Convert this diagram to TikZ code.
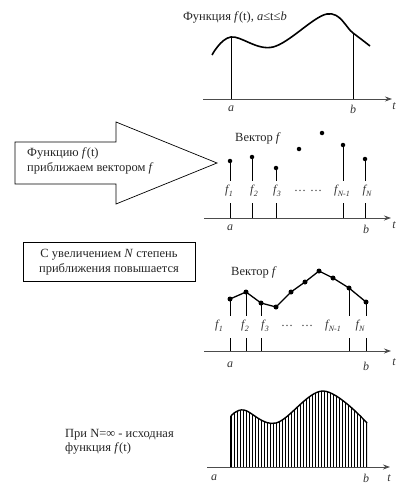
\documentclass[tikz,border=0pt]{standalone}
\usepackage{fontspec}
\setmainfont{Liberation Serif}
\usetikzlibrary{arrows.meta}
\newcommand{\fsub}[1]{\textit{f}\kern0.3pt\raisebox{-2.5pt}{\fontsize{8}{8}\selectfont #1}}
\begin{document}
\begin{tikzpicture}[x=1pt,y=-1pt,
  axis/.style={draw=black!70, line width=0.8pt, -{Stealth[length=7pt,width=5pt]}},
  curve/.style={line width=1.6pt, line join=round},
  stem/.style={line width=0.9pt},
  pt/.style={circle, fill=black, inner sep=0pt, minimum size=4.5pt},
  lbl/.style={font=\fontsize{12}{14}\selectfont\itshape, inner sep=0pt, text=black!80},
  txt/.style={font=\fontsize{12.5}{14.5}\selectfont, inner sep=0pt, text=black!85},
]
\useasboundingbox (0,0) rectangle (407,495);

% ---------- panel 1 ----------
\coordinate (ax1s) at (203,99);
\coordinate (ax1e) at (392,99);
\draw[axis] (ax1s) -- (ax1e);
\draw[curve] plot[smooth, tension=0.6] coordinates {(212,55) (231,37) (273,47) (327,14) (353,33) (370,46)};
\coordinate (a1t) at (231,37.5); \coordinate (a1b) at (231,99);
\coordinate (b1t) at (353,33); \coordinate (b1b) at (353,99);
\draw[stem] (a1b) -- (a1t);
\draw[stem] (b1b) -- (b1t);
\node[txt, anchor=east] (title) at (287,17) {Функция \textit{f}(t), \textit{a}≤t≤\textit{b}};
\node[lbl] (a1) at (231,109) {a};
\node[lbl] (b1) at (353,109) {b};
\node[lbl] (t1) at (394,106) {t};

% ---------- panel 2 ----------
\draw[line width=0.7pt] (15,142) -- (116,142) -- (116,122) -- (217,163) -- (116,204) -- (116,184) -- (15,184) -- cycle;
\node[txt, anchor=west, align=left] (arrtxt) at (27,161) {Функцию \textit{f}(t)\\приближаем вектором \textit{f}};
\node[txt, anchor=west] (vec2) at (235,138) {Вектор \textit{f}};
\coordinate (ax2s) at (204,218);
\coordinate (ax2e) at (391,218);
\draw[axis] (ax2s) -- (ax2e);
\foreach \n/\x/\y in {1/230/161, 2/252/157, 3/276/168, 4/299/149, 5/322/133, 6/343/145, 7/365/159}
  \node[pt] (p\n) at (\x,\y) {};
\foreach \n in {1,2,3,6,7} {
  \coordinate (u\n) at (p\n |- 0,181);
  \coordinate (l\n) at (p\n |- 0,203);
  \coordinate (z\n) at (p\n |- ax2s);
  \draw[stem] (p\n.center) -- (u\n);
  \draw[stem] (l\n) -- (z\n);
}
\node[lbl] (f21) at (229,191) {\fsub{1}};
\node[lbl] (f22) at (254,191) {\fsub{2}};
\node[lbl] (f23) at (277,191) {\fsub{3}};
\node[lbl] (d21) at (300,191) {\upshape\dots};
\node[lbl] (d22) at (316,191) {\upshape\dots};
\node[lbl] (f26) at (342,191) {\fsub{N-1}};
\node[lbl] (f27) at (367,191) {\fsub{N}};
\node[lbl] (a2) at (230,228) {a};
\node[lbl] (b2) at (366,229) {b};
\node[lbl] (t2) at (394,225) {t};

% ---------- panel 3 ----------
\draw[line width=1pt] (23,242) rectangle (195,281);
\node[txt, align=center] (boxtxt) at (109,262) {С увеличением \textit{N} степень\\приближения повышается};
\node[txt, anchor=west] (vec3) at (231,272) {Вектор \textit{f}};
\coordinate (ax3s) at (204,351);
\coordinate (ax3e) at (391,351);
\draw[axis] (ax3s) -- (ax3e);
\foreach \n/\x/\y in {1/230/299, 2/246/292, 3/261/303, 4/276/307, 5/291/292, 6/305/282, 7/319/271, 8/333/278, 9/349/288, 10/366/302}
  \coordinate (q\n) at (\x,\y);
\draw[line width=1.3pt, line join=round] (q1) -- (q2) -- (q3) -- (q4) -- (q5) -- (q6) -- (q7) -- (q8) -- (q9) -- (q10);
\foreach \n in {1,...,10} \node[pt, minimum size=5pt] (r\n) at (q\n) {};
\foreach \n in {1,2,3,9,10} {
  \coordinate (v\n) at (q\n |- 0,316);
  \coordinate (w\n) at (q\n |- 0,338);
  \coordinate (y\n) at (q\n |- ax3s);
  \draw[stem] (q\n) -- (v\n);
  \draw[stem] (w\n) -- (y\n);
}
\node[lbl] (f31) at (219,326) {\fsub{1}};
\node[lbl] (f32) at (245,326) {\fsub{2}};
\node[lbl] (f33) at (265,326) {\fsub{3}};
\node[lbl] (d31) at (287,326) {\upshape\dots};
\node[lbl] (d32) at (307,326) {\upshape\dots};
\node[lbl] (f39) at (333,326) {\fsub{N-1}};
\node[lbl] (f310) at (360,326) {\fsub{N}};
\node[lbl] (a3) at (230,365) {a};
\node[lbl] (b3) at (366,366) {b};
\node[lbl] (t3) at (394,362) {t};

% ---------- panel 4 ----------
\node[txt, anchor=west, align=left] (inftxt) at (65,442) {При N=∞ - исходная\\функция \textit{f}(t)};
\begin{scope}
  \clip (231,467) -- plot[smooth, tension=0.6] coordinates {(231,416) (244,410) (276,423) (323,391) (367,423)} -- (367,467) -- cycle;
  \foreach \x in {231,234,...,366} \draw[line width=0.6pt] (\x,380) -- (\x,470);
  \draw[line width=1.2pt] (367,380) -- (367,470);
\end{scope}
\draw[line width=1.2pt] (231,467) -- (231,416);
\draw[line width=1.4pt] plot[smooth, tension=0.6] coordinates {(231,416) (244,410) (276,423) (323,391) (367,423)};
\coordinate (ax4s) at (207,467);
\coordinate (ax4e) at (390,467);
\draw[axis] (ax4s) -- (ax4e);
\node[lbl] (a4) at (214,478) {a};
\node[lbl] (b4) at (366,478) {b};
\node[lbl] (t4) at (389,478) {t};
\end{tikzpicture}
\end{document}
